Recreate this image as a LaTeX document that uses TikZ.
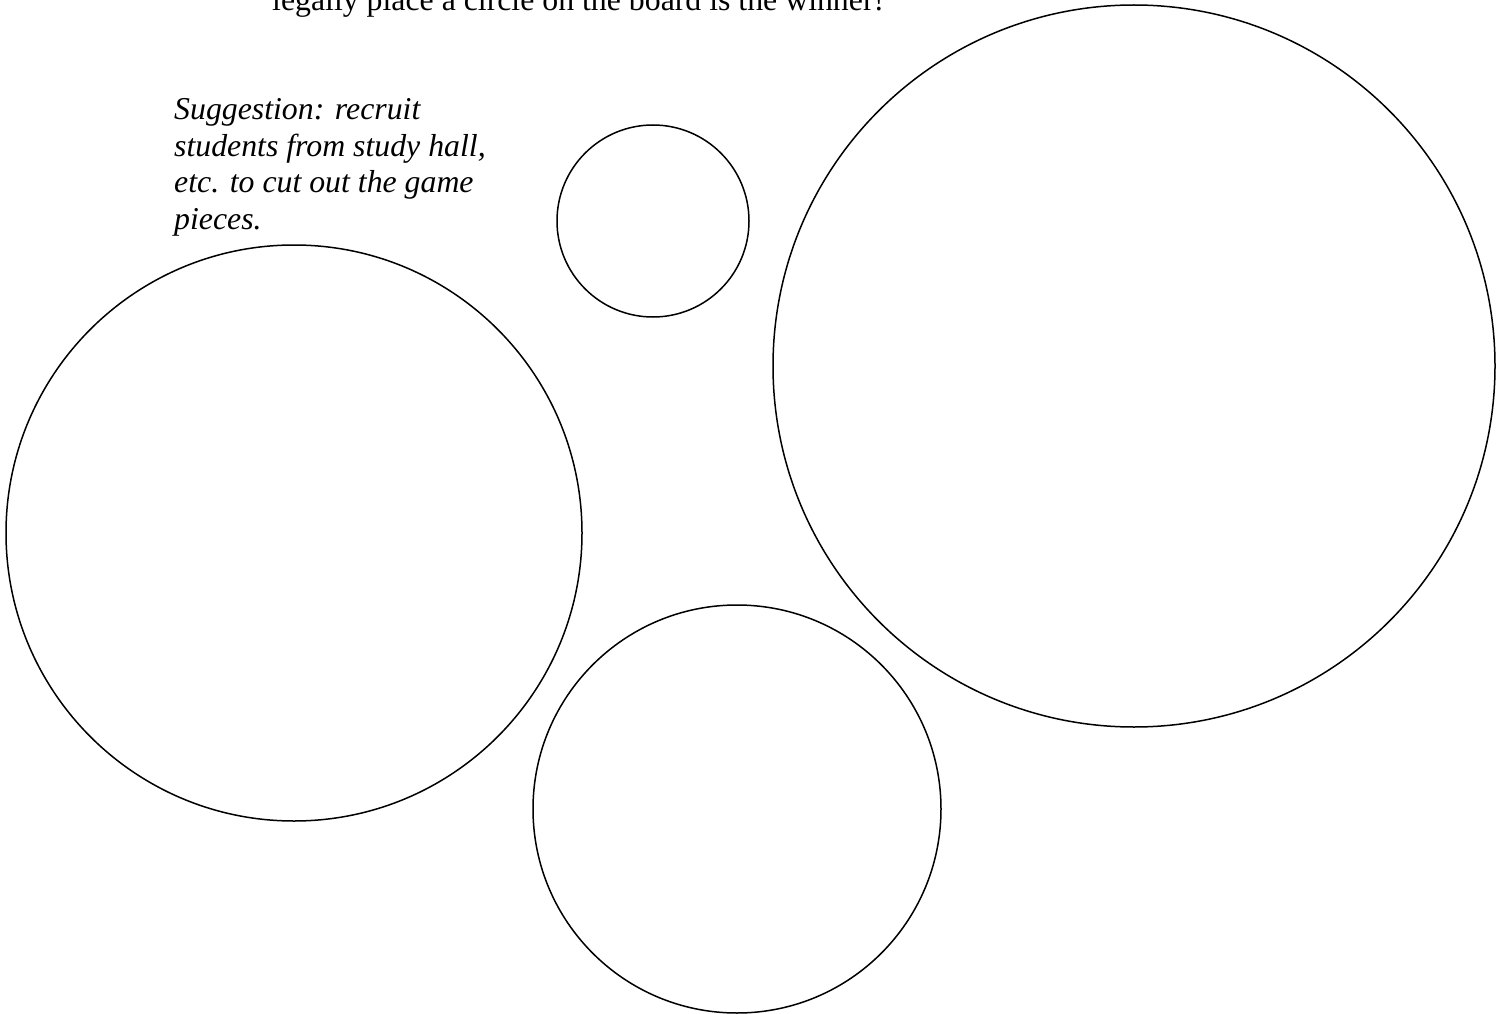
\documentclass[tikz,border=0pt]{standalone}
\usepackage{fontspec}
\setmainfont{Liberation Serif}
\usetikzlibrary{positioning}

\begin{document}
\begin{tikzpicture}[
      x=1pt, y=-1pt,
      font=\fontsize{31.8}{36.5}\selectfont,
      piece/.style={draw, circle, line width=1.5pt, inner sep=0pt},
      note/.style={inner sep=0pt, align=left}]
    \useasboundingbox (0,0) rectangle (1505,1014);
    \node[note, anchor=base west] (rule) at (272,11) {legally place a circle on the board is the winner!};
    % last line of the hint sits on this baseline
    \node[note, anchor=base west, font=\fontsize{31.8}{36.5}\selectfont\itshape] (hint) at (174,229)
      {Suggestion: recruit\\ students from study hall,\\ etc. to cut out the game\\ pieces.};
    \node[piece, minimum size=192pt] (small) at (653,221) {};
    \node[piece, minimum size=722pt] (huge) at (1134,366) {};
    \node[piece, minimum size=576pt] (large) at (294,533) {};
    \node[piece, minimum size=408pt] (medium) at (737,809) {};
  \end{tikzpicture}
\end{document}
